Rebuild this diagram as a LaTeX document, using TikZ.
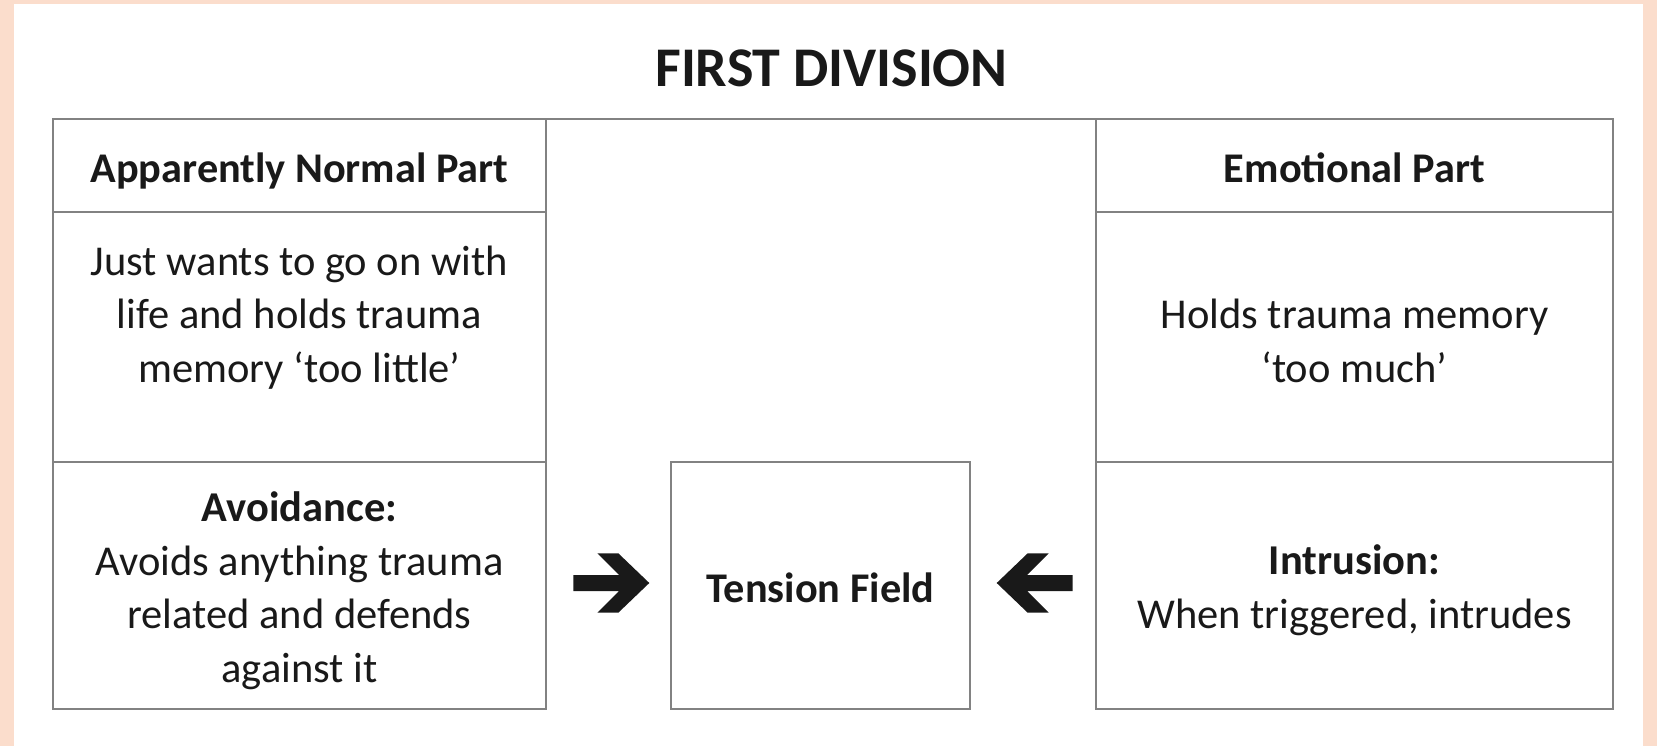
\documentclass[tikz,border=0pt]{standalone}
\usepackage{fontspec}
\setmainfont{Carlito}
\definecolor{peach}{RGB}{251,221,204}
\definecolor{frame}{RGB}{130,130,130}
\definecolor{ink}{RGB}{25,25,25}
\begin{document}
\begin{tikzpicture}[x=1pt,y=-1pt,
  cell/.style={draw=frame, line width=1.8pt, rectangle, inner sep=0pt, outer sep=0pt, anchor=north west},
  txt/.style={font=\fontsize{42.5}{53.5}\selectfont, text=ink, align=center, inner sep=0pt, anchor=base},
  hd/.style={txt, font=\fontsize{42.3}{53.5}\selectfont\bfseries},
  ttl/.style={txt, font=\fontsize{56}{60}\selectfont\bfseries},
  blockarrow/.pic={\fill[ink] (-38,-8) -- (7.7,-8) -- (-14,-29.7) -- (7,-29.7) -- (38,0) -- (7,29.7) -- (-14,29.7) -- (7.7,8) -- (-38,8) -- cycle;}
]
\useasboundingbox (0,0) rectangle (1657,746);
\fill[peach] (0,0) rectangle (1657,746);
\fill[white] (14,4) rectangle (1643,746);

% title
\node[ttl] (title) at (831.5,87) {FIRST DIVISION};

% left column cells
\node[cell, minimum width=493pt, minimum height=93pt]  (anph) at (53,119) {};
\node[cell, minimum width=493pt, minimum height=250pt] (anpm) at (53,212) {};
\node[cell, minimum width=493pt, minimum height=247pt] (anpb) at (53,462) {};
% right column cells
\node[cell, minimum width=517pt, minimum height=93pt]  (eph) at (1096,119) {};
\node[cell, minimum width=517pt, minimum height=250pt] (epm) at (1096,212) {};
\node[cell, minimum width=517pt, minimum height=247pt] (epb) at (1096,462) {};
% centre cell
\node[cell, minimum width=299pt, minimum height=247pt] (tens) at (671,462) {};
% top rule across
\draw[frame, line width=1.8pt] (anph.north east) -- (eph.north west);

% texts (multi-line nodes are anchored at the baseline of their last line)
\node[hd] (anphT) at (299.5,183) {Apparently Normal Part};
\node[hd] (ephT) at (1354.5,183) {Emotional Part};
\node[txt] (anpmT) at (299.5,382) {Just wants to go on with\\life and holds trauma\\memory ‘too little’};
\node[txt] (epmT) at (1354.5,382) {Holds trauma memory\\‘too much’};
\node[txt] (anpbT) at (299.5,682) {\textbf{Avoidance:}\\Avoids anything trauma\\related and defends\\against it};
\node[txt] (epbT) at (1354.5,628) {\textbf{Intrusion:}\\When triggered, intrudes};
\node[hd] (tensT) at (820.5,602) {Tension Field};

% arrows
\pic at (611.3,583) {blockarrow};
\pic[xscale=-1] at (1034.7,583) {blockarrow};
\end{tikzpicture}
\end{document}
